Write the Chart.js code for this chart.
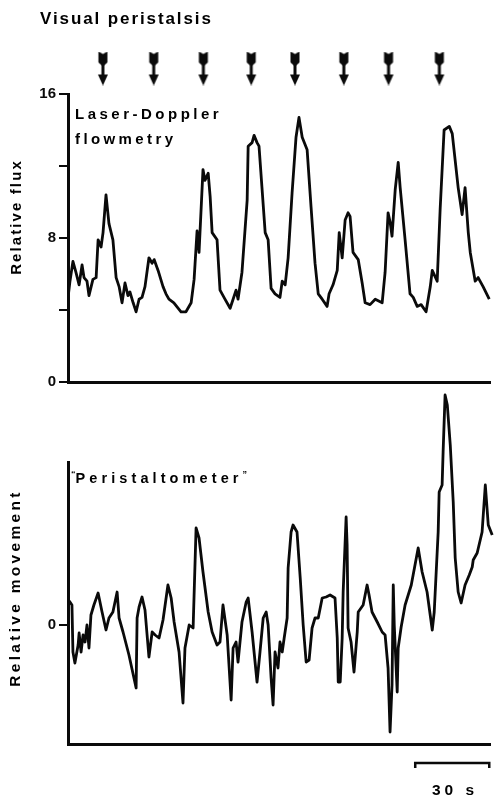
<!DOCTYPE html>
<html><head><meta charset="utf-8">
<script src="https://cdn.jsdelivr.net/npm/chart.js@4.4.1/dist/chart.umd.min.js"></script>
<style>
html,body{margin:0;padding:0;background:#fff;}
#wrap{position:relative;width:497px;height:799px;overflow:hidden;font-family:"Liberation Sans",Arial,sans-serif;font-weight:bold;color:#000;}
canvas{position:absolute;left:0;top:0;}
.t{position:absolute;white-space:nowrap;line-height:1;}
.rot{transform:translate(-50%,-50%) rotate(-90deg);}
.q{font-size:9px;vertical-align:6px;letter-spacing:0;}
</style></head><body>
<div id="wrap">
<canvas id="c0" width="497" height="799"></canvas>
<canvas id="c1" width="497" height="799"></canvas>
<canvas id="c2" width="497" height="799"></canvas>
<div class="t" style="left:40px;top:10px;font-size:17px;letter-spacing:1.9px">Visual peristalsis</div>
<div class="t" style="left:75px;top:106px;font-size:15px;letter-spacing:3.5px">Laser-Doppler</div>
<div class="t" style="left:75px;top:131px;font-size:15px;letter-spacing:3.4px">flowmetry</div>
<div class="t" style="left:71px;top:470px;font-size:14.5px;letter-spacing:4.1px"><span class="q">“</span>Peristaltometer<span class="q">”</span></div>
<div class="t rot" style="left:15px;top:217px;font-size:15px;letter-spacing:2.1px">Relative flux</div>
<div class="t rot" style="left:15px;top:588px;font-size:15.5px;letter-spacing:3.3px">Relative movement</div>
<div class="t" style="left:432px;top:782px;font-size:15.5px;letter-spacing:4px">30 s</div>
</div>
<script>
// ---- data (time in seconds) ----
const peristalsisTimes = [14.2, 34.9, 55.1, 74.6, 92.4, 112.3, 130.5, 151.2];

const fluxTime = [0.2,0.8,2.0,3.2,4.5,5.7,6.5,7.7,8.5,10.1,11.4,12.2,13.4,14.2,15.4,16.6,18.2,19.5,20.7,21.9,23.1,24.3,25.1,26.4,27.6,28.8,30.0,31.2,32.8,34.1,34.9,36.5,38.5,39.7,40.9,42.9,45.8,47.8,49.9,51.1,52.3,53.1,54.7,55.5,56.8,57.6,58.4,60.4,61.6,63.6,65.7,66.9,68.1,68.9,70.5,72.6,73.0,74.6,75.4,76.6,77.4,78.6,79.9,81.1,82.3,83.9,85.9,86.8,88.0,89.2,90.8,92.4,93.6,94.9,96.9,98.5,100.1,101.4,103.0,105.0,105.8,107.4,109.1,109.9,111.1,112.3,113.5,114.3,115.5,117.6,119.2,120.4,122.4,124.5,127.3,128.5,129.7,130.5,131.3,132.6,133.8,134.6,136.6,138.6,139.9,141.5,143.1,145.1,146.8,147.6,149.6,150.8,152.4,154.5,155.7,158.1,159.7,160.9,162.2,163.0,165.0,166.2,168.2,170.7];
const relativeFlux = [4.9,5.6,6.7,6.1,5.4,6.5,5.8,5.6,4.8,5.7,5.8,7.9,7.5,8.3,10.4,8.8,7.9,5.8,5.3,4.4,5.5,4.8,5.0,4.4,3.9,4.6,4.7,5.3,6.9,6.6,6.8,6.2,5.3,4.9,4.6,4.4,3.9,3.9,4.4,5.7,8.4,7.2,11.8,11.2,11.6,10.3,8.3,7.9,5.1,4.6,4.1,4.6,5.1,4.6,6.1,10.1,13.1,13.3,13.7,13.3,13.1,10.8,8.3,7.9,5.2,4.9,4.7,5.6,5.4,6.9,10.5,13.6,14.7,13.6,12.9,9.7,6.6,4.9,4.6,4.2,4.9,5.4,6.2,8.3,6.9,9.0,9.4,9.2,7.2,6.8,5.5,4.4,4.3,4.6,4.4,6.1,9.4,8.9,8.1,10.7,12.2,10.8,7.9,4.9,4.7,4.2,4.3,3.9,5.3,6.2,5.6,9.6,14.0,14.2,13.8,10.8,9.3,10.8,8.3,7.2,5.6,5.8,5.3,4.6];

const moveTime = [0.2,0.8,1.6,2.0,2.8,4.1,4.5,5.3,6.1,6.9,7.7,8.5,9.3,10.5,12.2,13.8,15.4,16.6,18.2,19.9,20.7,22.3,24.7,27.6,28.0,28.8,30.0,31.2,32.8,34.1,35.3,36.9,38.5,40.5,41.8,43.0,45.0,46.6,47.4,49.1,50.7,51.9,53.1,54.7,56.8,58.4,60.4,61.6,62.8,64.5,66.1,66.9,68.1,68.9,70.5,72.2,73.0,74.6,76.6,77.8,79.1,80.3,81.1,82.3,83.1,83.9,85.1,85.9,86.8,87.6,88.8,89.2,90.4,91.2,92.8,94.1,95.3,96.5,97.7,98.9,100.1,101.4,103.0,104.6,106.2,108.2,109.1,109.5,110.3,111.1,111.5,112.7,113.1,113.5,114.7,115.9,117.2,117.6,119.6,121.2,122.0,123.2,125.3,127.3,128.5,129.7,130.5,131.3,131.8,132.2,133.4,133.8,135.0,136.6,139.1,141.9,143.5,145.5,147.6,148.4,150.0,150.4,151.6,152.0,152.8,153.7,154.9,156.1,156.9,158.1,159.3,160.9,162.6,163.8,164.2,165.8,167.8,169.1,170.3,171.9,172.7];
const relativeMovement = [2.5,2.3,2.0,-2.7,-3.8,-2.0,-0.8,-2.7,-1.0,-1.7,0,-2.3,1.0,2.0,3.2,1.3,-0.5,0.7,1.3,3.3,0.7,-0.7,-3.0,-6.3,0.7,1.8,2.8,1.5,-3.2,-0.7,-1.0,-1.3,0.5,4.0,2.7,0.3,-2.7,-7.8,-2.3,0,-0.3,9.7,8.7,5.3,1.3,-0.7,-2.0,-1.7,2.0,-1.0,-7.5,-2.3,-1.7,-3.7,0.3,2.3,2.7,-0.7,-5.7,-2.7,0.7,1.3,0,-5.3,-8.0,-2.7,-4.3,-1.7,-2.7,-1.3,0.7,5.7,9.3,10.0,9.3,4.7,0,-3.7,-3.5,-0.3,0.7,0.7,2.7,2.8,3.0,2.7,-1.3,-5.7,-5.7,-1.3,3.3,10.8,8.0,-0.3,-1.7,-4.7,-0.7,1.3,2.0,4.0,3.0,1.3,0.3,-0.7,-1.0,-4.3,-10.7,-6.0,4.0,0,-6.7,-2.3,-0.2,2.0,4.0,7.7,5.3,3.3,-0.5,1.3,9.3,13.3,14.0,17.3,23.0,22.0,18.0,12.3,6.7,3.3,2.2,4.0,5.0,5.8,6.5,7.2,9.3,14.0,10.0,9.0,8.2];

const fluxTicks = [0, 4, 8, 12, 16];
const fluxTickLabels = ['0', '', '8', '', '16'];
const movementTicks = [0];
const movementTickLabels = ['0'];
const scaleBarSeconds = 30;
const scaleBarEnd = 170.7;

// ---- drawing ----
const INK = '#0a0a0a';
const TIME_MAX = 171;
const fontTick = {family:'"Liberation Sans", Arial, sans-serif', size:15, weight:'bold'};

function arrowImage(){
  const c = document.createElement('canvas');
  c.width = 12; c.height = 34;
  const g = c.getContext('2d');
  g.fillStyle = INK;
  g.beginPath();
  g.moveTo(1.5,0); g.lineTo(6,2.5); g.lineTo(10.5,0); g.lineTo(10.5,11); g.lineTo(6,15); g.lineTo(1.5,11); g.closePath(); g.fill();
  g.fillRect(4.5,12,3,12);
  g.beginPath(); g.moveTo(1,23); g.lineTo(11,23); g.lineTo(6,34); g.closePath(); g.fill();
  return c;
}

Chart.defaults.animation = false;
Chart.defaults.responsive = false;
Chart.defaults.devicePixelRatio = 1;
Chart.defaults.plugins.legend.display = false;
Chart.defaults.plugins.tooltip.enabled = false;

// arrows row
new Chart(document.getElementById('c0'), {
  type: 'scatter',
  data: {datasets: [{data: peristalsisTimes.map(t => ({x: t, y: 0.5})), pointStyle: arrowImage(), pointRadius: 8, clip: false}]},
  options: {
    layout: {padding: {left: 68, right: 7, top: 45, bottom: 799 - 92}},
    scales: {x: {type: 'linear', min: 0, max: TIME_MAX, display: false}, y: {min: 0, max: 1, display: false}}
  }
});

function yAxis(min, max, ticks, labels){
  return {
    min, max,
    afterBuildTicks: s => { s.ticks = ticks.map(v => ({value: v})); },
    afterFit: s => { s.width = 68; },
    ticks: {font: fontTick, color: INK, padding: 3, autoSkip: false,
            callback: (v) => { const i = ticks.indexOf(v); return i >= 0 ? labels[i] : ''; }},
    grid: {display: true, drawOnChartArea: false, drawTicks: true, tickLength: 9, color: INK, lineWidth: 2},
    border: {display: true, color: INK, width: 3}
  };
}
const xAxis = {
  type: 'linear', min: 0, max: TIME_MAX,
  afterFit: s => { s.height = 0; },
  ticks: {display: false}, grid: {display: false},
  border: {display: true, color: INK, width: 3}
};

new Chart(document.getElementById('c1'), {
  type: 'line',
  data: {datasets: [{data: fluxTime.map((t, i) => ({x: t, y: relativeFlux[i]})),
    borderColor: INK, borderWidth: 2.8, pointRadius: 0, tension: 0, clip: false, borderJoinStyle: 'round'}]},
  options: {
    layout: {padding: {left: 0, right: 7, top: 94, bottom: 799 - 382}},
    scales: {x: xAxis, y: yAxis(0, 16, fluxTicks, fluxTickLabels)}
  }
});

new Chart(document.getElementById('c2'), {
  type: 'line',
  data: {datasets: [
    {data: moveTime.map((t, i) => ({x: t, y: relativeMovement[i]})),
     borderColor: INK, borderWidth: 2.8, pointRadius: 0, tension: 0, clip: false, borderJoinStyle: 'round'},
    {data: [{x: scaleBarEnd - scaleBarSeconds, y: -14.3}, {x: scaleBarEnd - scaleBarSeconds, y: -13.8},
            {x: scaleBarEnd, y: -13.8}, {x: scaleBarEnd, y: -14.3}],
     borderColor: INK, borderWidth: 2.5, pointRadius: 0, tension: 0, clip: false}
  ]},
  options: {
    layout: {padding: {left: 0, right: 7, top: 462, bottom: 799 - 744}},
    scales: {x: xAxis, y: yAxis(-11.9, 16.3, movementTicks, movementTickLabels)}
  }
});
</script>
</body></html>
